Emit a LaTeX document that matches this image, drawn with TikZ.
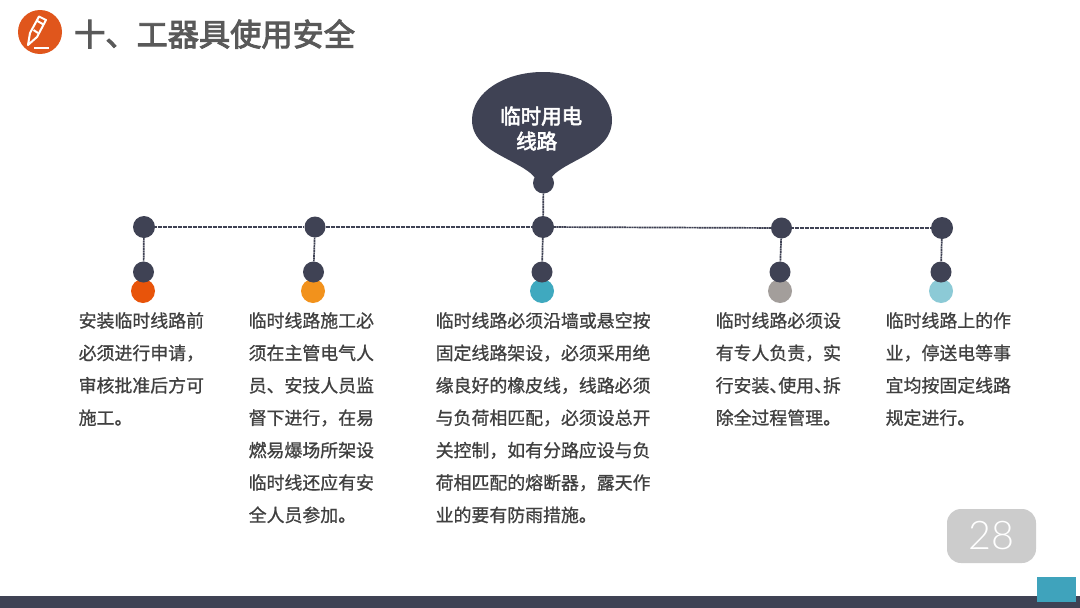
\documentclass[tikz,border=0pt]{standalone}
\usepackage{fontspec}
\setmainfont{Noto Sans CJK SC}
\newfontfamily\bodyfont[FakeBold=0.9]{Noto Sans CJK SC}
\newfontfamily\titlefont[FakeBold=3]{Noto Sans CJK SC}
\newfontfamily\numfont{Lato Light}
\definecolor{darkslate}{HTML}{3F4254}
\definecolor{bodytxt}{HTML}{404040}
\definecolor{titletxt}{HTML}{595959}
\definecolor{cOrange}{HTML}{E8540A}
\definecolor{cAmber}{HTML}{F2921C}
\definecolor{cTeal}{HTML}{3FA9BF}
\definecolor{cGrey}{HTML}{A39E9B}
\definecolor{cSky}{HTML}{8CCAD6}
\definecolor{badge}{HTML}{CCCCCC}
\definecolor{iconbg}{HTML}{E0561C}
\definecolor{corner}{HTML}{3FA3BC}
\tikzset{
  dot/.style={circle,fill=darkslate,draw=none,inner sep=0pt,minimum size=#1},
  tone/.style={circle,fill=#1,draw=none,inner sep=0pt,minimum size=24pt},
  link/.style={draw=darkslate,line width=1.7pt,dash pattern=on 2pt off 0.5pt},
  body/.style={anchor=north west,align=left,inner sep=0pt,text=bodytxt,font=\bodyfont\fontsize{17.9}{32.4}\selectfont},
}
\begin{document}
\begin{tikzpicture}[x=1pt,y=-1pt]
\path[use as bounding box,fill=white] (0,0) rectangle (1080,608);
% footer
\fill[darkslate] (0,596) rectangle (1080,608);
\fill[corner] (1037,577) rectangle (1076,602);
\node[fill=badge,rounded corners=14pt,minimum width=89pt,minimum height=54pt,inner sep=0pt,text=white,font=\numfont\fontsize{39.5}{40}\selectfont] (page) at (991.5,536) {28};
% icon
\fill[iconbg] (40,32) circle (22);
\begin{scope}[white,line width=2pt,line join=round]
\draw (28,45) -- (30,33) -- (39,16.5) -- (46,20) -- (37,37) -- cycle;
\draw (36.5,20.5) -- (43.5,24.5);
\draw (33.5,30) -- (38,33);
\draw (49,47.5) -- (34,47.5);
\end{scope}
% title
\node[anchor=west,inner sep=0pt,text=titletxt,font=\titlefont\fontsize{31.2}{31}\selectfont] (title) at (74,34) {十、工器具使用安全};
% tone circles
\node[tone=cOrange] (c1) at (143,291) {};
\node[tone=cAmber] (c2) at (313,291) {};
\node[tone=cTeal] (c3) at (542,291) {};
\node[tone=cGrey] (c4) at (780,291) {};
\node[tone=cSky] (c5) at (941,291) {};
% bubble
\fill[darkslate] (543,72) .. controls (505,72) and (472,92) .. (472,120)
  .. controls (472,140) and (490,150) .. (507,159)
  .. controls (520,166) and (530,171) .. (535,178) -- (551,178)
  .. controls (556,171) and (566,166) .. (579,159)
  .. controls (596,150) and (612,140) .. (612,120)
  .. controls (612,92) and (581,72) .. (543,72) -- cycle;
\node[align=left,anchor=west,inner sep=0pt,text=white,font=\titlefont\fontsize{20.5}{25}\selectfont] (head) at (500,128.5) {临时用电\\\hspace*{16pt}线路};
% dots
\node[dot=21pt] (root) at (543.5,183) {};
\node[dot=22pt] (t1) at (144,227) {};
\node[dot=21pt] (t2) at (315,227) {};
\node[dot=22pt] (t3) at (543,227) {};
\node[dot=21pt] (t4) at (781.5,228) {};
\node[dot=22pt] (t5) at (942,228) {};
\node[dot=21pt] (m1) at (143.5,272) {};
\node[dot=21pt] (m2) at (313.5,272) {};
\node[dot=21pt] (m3) at (542,272) {};
\node[dot=21pt] (m4) at (780,272) {};
\node[dot=21pt] (m5) at (941,272) {};
% connectors
\draw[link] (root) -- (t3);
\draw[link] (t1) -- (t2);
\draw[link] (t2) -- (t3);
\draw[link] (t3) -- (t4);
\draw[link] (t4) -- (t5);
\draw[link] (t1) -- (m1);
\draw[link] (t2) -- (m2);
\draw[link] (t3) -- (m3);
\draw[link] (t4) -- (m4);
\draw[link] (t5) -- (m5);
% texts
\node[body] (x1) at (78.5,312) {安装临时线路前\\必须进行申请，\\审核批准后方可\\施工。};
\node[body] (x2) at (248.5,312) {临时线路施工必\\须在主管电气人\\员、安技人员监\\督下进行，在易\\燃易爆场所架设\\临时线还应有安\\全人员参加。};
\node[body] (x3) at (435.5,312) {临时线路必须沿墙或悬空按\\固定线路架设，必须采用绝\\缘良好的橡皮线，线路必须\\与负荷相匹配，必须设总开\\关控制，如有分路应设与负\\荷相匹配的熔断器，露天作\\业的要有防雨措施。};
\node[body] (x4) at (715.5,312) {临时线路必须设\\有专人负责，实\\行安装、\kern-0.5em 使用、\kern-0.5em 拆\\除全过程管理。};
\node[body] (x5) at (885.5,312) {临时线路上的作\\业，停送电等事\\宜均按固定线路\\规定进行。};
\end{tikzpicture}
\end{document}
